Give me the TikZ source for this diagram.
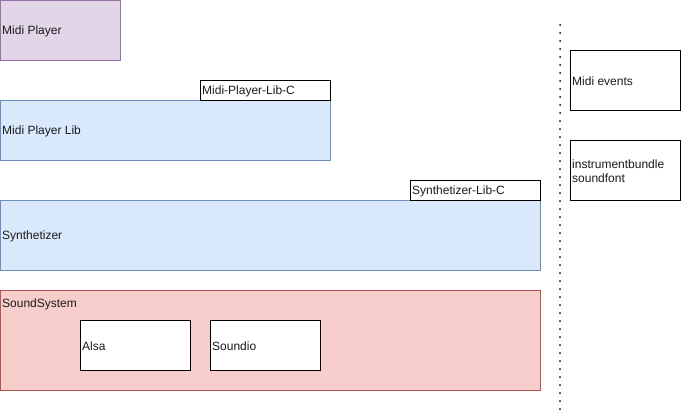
\documentclass[tikz,border=0pt]{standalone}
\usepackage{fontspec}
\setmainfont{Liberation Sans}
\definecolor{purfill}{HTML}{E1D5E7}
\definecolor{purdraw}{HTML}{9673A6}
\definecolor{blufill}{HTML}{DAE8FC}
\definecolor{bludraw}{HTML}{6C8EBF}
\definecolor{redfill}{HTML}{F8CECC}
\definecolor{reddraw}{HTML}{B85450}
\definecolor{txt}{HTML}{1A1A1A}
\begin{document}
\begin{tikzpicture}[x=1pt,y=-1pt,
  lbl/.style={anchor=west,inner sep=0pt,yshift=-1.5pt,font=\fontsize{12}{14}\selectfont,text=txt,align=left},
  whitebox/.style={draw=black,fill=white,line width=1pt},
  purbox/.style={draw=purdraw,fill=purfill,line width=1pt},
  blubox/.style={draw=bludraw,fill=blufill,line width=1pt},
  redbox/.style={draw=reddraw,fill=redfill,line width=1pt},
  sep/.style={line width=2pt,line cap=round,dash pattern=on 0pt off 8pt}]
\useasboundingbox (0,0) rectangle (681,413);
% Midi Player
\draw[purbox] (0.5,0.5) rectangle (120,60);
\node[lbl] (mp) at (2,30) {Midi Player};
% Midi Player Lib
\draw[blubox] (0.5,100) rectangle (330,160);
\node[lbl] (mpl) at (2,130) {Midi Player Lib};
\draw[whitebox] (200,80) rectangle (330,100);
\node[lbl] (mplc) at (202,90) {Midi-Player-Lib-C};
% Synthetizer
\draw[blubox] (0.5,200) rectangle (540,270);
\node[lbl] (syn) at (2,235) {Synthetizer};
\draw[whitebox] (410,180) rectangle (540,200);
\node[lbl] (sync) at (412,190) {Synthetizer-Lib-C};
% SoundSystem
\draw[redbox] (0.5,290) rectangle (540,390);
\node[lbl] (ss) at (2,303) {SoundSystem};
\draw[whitebox] (80,320) rectangle (190,370);
\node[lbl] (alsa) at (82,345) {Alsa};
\draw[whitebox] (210,320) rectangle (320,370);
\node[lbl] (sio) at (212,345) {Soundio};
% separator
\coordinate (s1) at (560,25);
\coordinate (s2) at (560,410);
\draw[sep] (s1) -- (s2);
% right boxes
\draw[whitebox] (570,50) rectangle (680,110);
\node[lbl] (me) at (572,80) {Midi events};
\draw[whitebox] (570,140) rectangle (680,200);
\node[lbl] (ib) at (572,170) {instrumentbundle\\soundfont};
\end{tikzpicture}
\end{document}
